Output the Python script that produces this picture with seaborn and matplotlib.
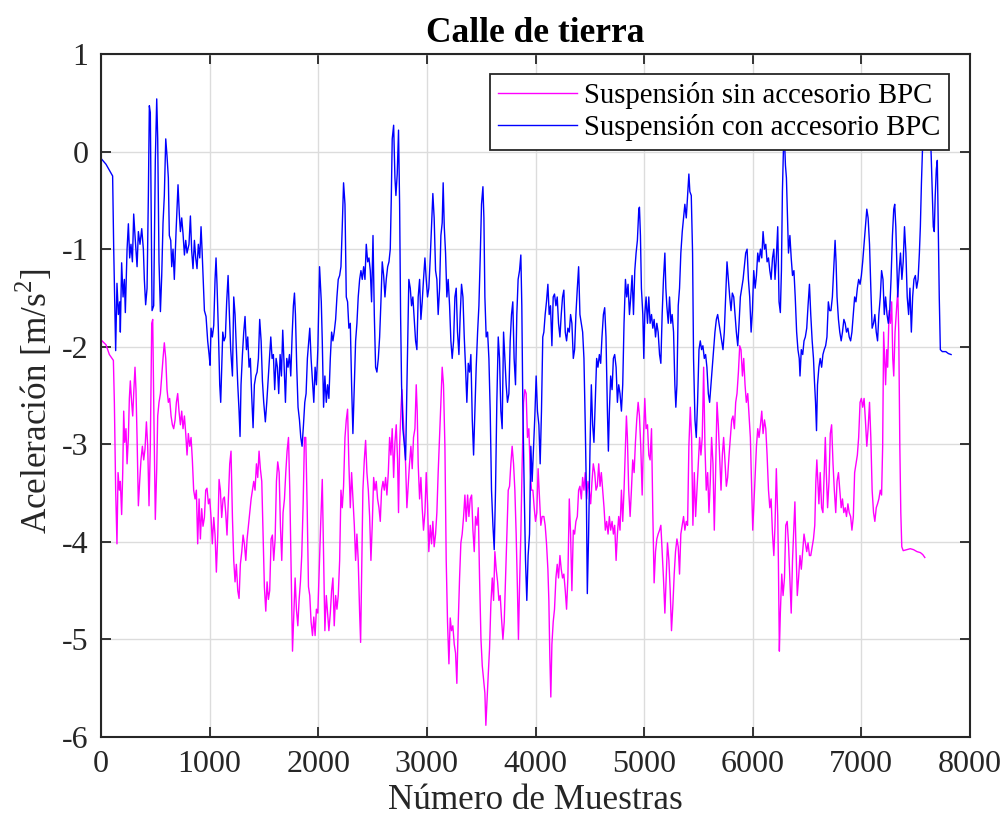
import numpy as np
import pandas as pd
import matplotlib
matplotlib.use("Agg")
import matplotlib.pyplot as plt
import seaborn as sns

# Fuente tipo Times (como MATLAB)
plt.rcParams['font.family'] = ['Liberation Serif', 'DejaVu Serif']
plt.rcParams['mathtext.fontset'] = 'custom'
plt.rcParams['mathtext.rm'] = 'Liberation Serif'
plt.rcParams['axes.unicode_minus'] = False

# Series (muestra, aceleración)
sin_bpc = [
    (0,-1.93),(46,-1.98),(77,-2.08),(114,-2.14),(123,-2.57),(135,-3.47),(147,-4.02),(157,-3.29),(169,-3.47),
    (178,-3.38),(190,-3.72),(200,-3.29),(209,-2.66),(218,-2.98),(230,-2.84),(240,-3.20),(252,-2.93),(261,-2.53),
    (270,-2.35),(282,-2.57),(292,-2.71),(301,-2.48),(313,-2.21),(322,-2.44),(332,-2.93),(344,-3.63),(356,-3.38),
    (368,-3.16),(381,-3.02),(393,-3.16),(405,-3.05),(418,-2.77),(430,-3.02),(442,-3.63),(454,-3.02),(467,-1.76),
    (476,-1.72),(488,-2.80),(500,-3.77),(513,-3.25),(522,-2.71),(534,-2.57),(547,-2.48),(559,-2.30),(571,-2.12),
    (583,-1.96),(596,-2.12),(608,-2.44),(620,-2.57),(632,-2.53),(645,-2.71),(657,-2.80),(669,-2.84),(682,-2.75),
    (694,-2.57),(706,-2.48),(718,-2.66),(731,-2.80),(743,-2.66),(755,-2.84),(768,-2.71),(780,-2.89),(792,-3.11),
    (804,-2.89),(817,-3.02),(829,-2.93),(841,-3.16),(853,-3.47),(866,-3.56),(878,-3.47),(890,-4.02),(903,-3.56),
    (915,-3.97),(927,-3.66),(939,-3.84),(952,-3.75),(964,-3.47),(976,-3.45),(989,-3.61),(1001,-3.56),(1013,-3.75),
    (1025,-4.02),(1038,-3.75),(1050,-3.93),(1062,-4.31),(1075,-3.93),(1087,-3.36),(1099,-3.47),(1111,-3.75),
    (1124,-3.56),(1136,-3.54),(1148,-3.70),(1160,-3.93),(1173,-3.56),(1185,-3.20),(1197,-3.07),(1210,-3.75),
    (1222,-4.19),(1234,-4.41),(1246,-4.23),(1259,-4.50),(1271,-4.58),(1283,-4.23),(1296,-4.10),(1308,-3.93),
    (1320,-4.02),(1333,-4.19),(1345,-3.97),(1357,-3.84),(1369,-3.70),(1382,-3.56),(1394,-3.47),(1406,-3.38),
    (1418,-3.47),(1431,-3.20),(1443,-3.34),(1455,-3.07),(1467,-3.25),(1480,-3.38),(1492,-3.93),(1504,-4.46),
    (1517,-4.71),(1529,-4.41),(1541,-4.59),(1553,-4.50),(1566,-3.97),(1578,-3.93),(1590,-4.19),(1603,-3.97),
    (1615,-3.38),(1627,-3.18),(1640,-3.29),(1652,-3.84),(1664,-4.19),(1676,-3.70),(1689,-3.56),(1701,-3.29),
    (1713,-3.07),(1726,-2.93),(1738,-3.47),(1750,-4.28),(1763,-5.12),(1775,-4.73),(1787,-4.37),(1799,-4.69),
    (1812,-4.86),(1824,-4.59),(1836,-4.41),(1848,-4.14),(1861,-3.61),(1873,-2.93),(1885,-2.93),(1898,-3.65),
    (1910,-4.46),(1922,-4.55),(1934,-4.82),(1947,-4.96),(1959,-4.77),(1971,-4.96),(1983,-4.69),(1996,-4.73),
    (2022,-3.83),(2037,-3.36),(2049,-4.14),(2061,-4.91),(2074,-4.55),(2086,-4.73),(2098,-4.91),(2111,-4.73),
    (2123,-4.50),(2135,-4.37),(2147,-4.86),(2160,-4.55),(2172,-4.69),(2184,-4.55),(2197,-4.19),(2209,-3.47),
    (2221,-3.65),(2233,-3.43),(2246,-2.93),(2258,-2.75),(2270,-2.64),(2282,-3.20),(2295,-3.65),(2307,-3.29),
    (2319,-3.56),(2332,-3.83),(2344,-4.19),(2356,-3.92),(2368,-4.19),(2381,-4.73),(2390,-5.03),(2399,-4.37),
    (2411,-3.47),(2424,-3.16),(2436,-2.96),(2448,-3.29),(2461,-3.47),(2473,-3.74),(2485,-4.19),(2497,-3.83),
    (2510,-3.34),(2522,-3.47),(2534,-3.38),(2546,-3.56),(2559,-3.65),(2571,-3.79),(2583,-3.47),(2596,-3.38),
    (2608,-3.47),(2620,-3.34),(2632,-3.52),(2645,-3.29),(2657,-2.93),(2669,-3.11),(2681,-2.84),(2694,-3.34),
    (2706,-2.98),(2718,-2.80),(2730,-3.16),(2739,-3.70),(2749,-3.02),(2761,-2.66),(2770,-2.44),(2779,-2.66),
    (2791,-2.93),(2804,-3.20),(2816,-3.65),(2828,-3.43),(2840,-3.20),(2853,-3.02),(2865,-3.25),(2877,-2.93),
    (2890,-2.84),(2902,-2.39),(2911,-2.66),(2920,-3.20),(2933,-3.56),(2945,-3.34),(2957,-3.65),(2969,-3.88),
    (2982,-3.70),(2994,-3.29),(3006,-3.61),(3018,-4.10),(3031,-3.83),(3043,-4.02),(3055,-3.79),(3067,-4.05),
    (3080,-3.92),(3092,-3.70),(3104,-3.29),(3117,-2.93),(3129,-2.57),(3141,-2.21),(3153,-2.39),(3166,-3.02),
    (3178,-4.19),(3190,-4.82),(3203,-5.25),(3215,-4.78),(3227,-4.91),(3239,-4.86),(3252,-5.05),(3264,-5.14),
    (3276,-5.45),(3289,-4.82),(3301,-4.37),(3313,-4.01),(3325,-3.92),(3338,-3.74),(3350,-3.52),(3362,-3.79),
    (3375,-3.52),(3387,-3.74),(3399,-3.56),(3412,-3.52),(3424,-3.88),(3436,-4.10),(3448,-3.74),(3461,-3.83),
    (3473,-3.65),(3485,-4.37),(3498,-5.00),(3510,-5.27),(3522,-5.41),(3534,-5.55),(3543,-5.88),(3553,-5.64),
    (3565,-5.36),(3577,-5.09),(3589,-4.64),(3602,-4.37),(3614,-4.60),(3626,-4.10),(3638,-4.28),(3651,-4.41),
    (3663,-4.60),(3675,-4.55),(3687,-4.78),(3700,-5.00),(3712,-4.82),(3724,-4.37),(3736,-3.92),(3749,-3.47),
    (3761,-3.43),(3773,-3.20),(3785,-3.02),(3798,-3.20),(3810,-3.47),(3822,-3.92),(3834,-4.50),(3843,-5.00),
    (3853,-4.46),(3865,-3.92),(3877,-3.20),(3890,-2.57),(3902,-2.44),(3914,-2.48),(3926,-2.93),(3939,-2.84),
    (3951,-3.25),(3963,-3.47),(3976,-3.47),(3988,-3.65),(4000,-3.79),(4012,-3.70),(4024,-3.25),(4037,-3.56),
    (4049,-3.83),(4061,-3.74),
    (4077,-3.74),(4089,-3.83),(4101,-4.01),(4114,-4.28),(4123,-4.60),(4132,-5.18),(4141,-5.59),(4151,-5.05),
    (4163,-4.82),(4175,-4.69),(4188,-4.37),(4200,-4.23),(4212,-4.37),(4225,-4.14),(4237,-4.28),(4249,-4.37),
    (4261,-4.33),(4274,-4.50),(4286,-4.69),(4298,-4.37),(4311,-3.56),(4323,-3.92),(4335,-4.50),(4348,-3.88),
    (4360,-3.92),(4372,-3.79),(4385,-3.74),(4397,-3.47),(4409,-3.43),(4422,-3.56),(4434,-3.34),(4446,-3.47),
    (4458,-3.29),(4471,-3.56),(4483,-3.38),(4495,-3.47),(4508,-3.61),(4520,-3.38),(4532,-3.20),(4545,-3.29),
    (4557,-3.47),(4569,-3.43),(4582,-3.20),(4594,-3.43),(4606,-3.29),(4618,-3.47),(4631,-3.65),(4643,-3.88),
    (4655,-3.79),(4668,-3.92),(4680,-3.74),(4692,-3.88),(4705,-3.79),(4717,-3.92),(4729,-3.83),(4742,-4.19),
    (4754,-3.92),(4766,-3.74),(4778,-3.88),(4791,-3.47),(4803,-3.79),(4815,-3.47),(4828,-3.02),(4837,-2.71),
    (4846,-2.93),(4858,-3.47),(4871,-3.74),(4883,-3.47),(4895,-3.16),(4908,-3.29),(4920,-2.98),(4932,-2.75),
    (4945,-2.57),(4957,-2.71),(4969,-3.02),(4982,-3.52),(4994,-2.93),(5006,-2.53),(5018,-2.84),(5031,-2.80),
    (5043,-3.11),(5055,-3.16),(5068,-2.84),(5080,-3.70),(5092,-4.42),(5105,-4.10),(5117,-3.97),(5129,-3.92),
    (5142,-3.88),(5154,-3.83),(5166,-4.10),(5178,-4.37),(5191,-4.73),(5203,-4.37),(5215,-4.01),(5228,-4.19),
    (5240,-4.50),(5252,-4.91),(5265,-4.64),(5277,-4.33),(5289,-4.10),(5302,-3.97),(5314,-4.05),(5326,-4.33),
    (5338,-3.92),(5351,-3.83),(5363,-3.74),(5375,-3.88),(5388,-3.79),(5400,-3.83),(5412,-3.02),(5425,-2.62),
    (5437,-2.93),(5449,-3.83),(5462,-3.29),(5474,-3.74),(5486,-3.47),(5498,-3.20),(5511,-2.93),(5523,-3.11),
    (5535,-2.93),(5548,-2.21),(5560,-3.02),(5572,-3.47),(5585,-3.29),(5597,-3.70),(5609,-3.38),(5621,-2.93),
    (5634,-3.20),(5646,-3.88),(5658,-3.29),(5671,-2.57),(5683,-2.80),(5695,-3.11),(5708,-3.47),(5720,-3.11),
    (5732,-2.93),(5745,-3.20),(5757,-3.43),(5769,-3.34),(5782,-3.11),(5794,-2.93),(5806,-2.75),(5818,-2.71),
    (5831,-2.84),(5843,-2.57),(5855,-2.48),(5868,-2.26),(5880,-1.99),(5892,-2.03),(5905,-2.30),(5917,-2.12),
    (5929,-2.39),(5941,-2.57),(5954,-2.48),(5966,-2.71),(5978,-2.93),(5991,-3.47),(6000,-3.88),(6009,-3.65),
    (6022,-3.34),(6034,-3.02),(6046,-2.84),(6058,-2.93),(6071,-2.80),(6083,-2.66),(6095,-2.89),(6108,-2.75),
    (6120,-2.84),(6132,-3.11),(6145,-3.47),(6157,-3.65),(6169,-3.56),(6182,-3.92),(6194,-4.14),
    (6205,-3.83),(6217,-3.25),(6230,-3.74),(6236,-4.19),(6245,-5.12),(6254,-4.73),(6267,-4.33),(6279,-4.55),
    (6292,-4.37),(6304,-3.83),(6317,-3.79),(6329,-4.01),(6342,-4.37),(6354,-4.73),(6366,-4.19),(6379,-3.83),
    (6388,-3.59),(6397,-4.01),(6410,-4.55),(6422,-4.37),(6435,-4.14),(6447,-4.28),(6459,-4.10),(6472,-3.92),
    (6484,-4.01),(6497,-4.10),(6509,-4.01),(6522,-4.14),(6534,-4.14),(6547,-4.05),(6559,-3.97),(6571,-3.83),
    (6581,-3.38),(6590,-3.16),(6599,-3.38),(6609,-3.61),(6621,-3.29),(6634,-3.65),(6646,-3.70),(6658,-3.29),
    (6668,-2.93),(6677,-3.29),(6689,-3.65),(6702,-3.38),(6714,-2.89),(6726,-2.80),(6739,-3.20),(6751,-3.47),
    (6764,-3.70),(6776,-3.38),(6789,-3.29),(6801,-3.47),(6814,-3.65),(6826,-3.56),(6838,-3.70),(6851,-3.65),
    (6863,-3.74),(6876,-3.61),(6888,-3.70),(6901,-3.74),(6913,-3.88),(6926,-3.74),(6938,-3.29),(6950,-3.20),
    (6963,-3.11),(6975,-2.93),(6988,-2.57),(7000,-2.53),(7012,-2.62),(7025,-2.53),(7037,-2.75),(7050,-3.02),
    (7062,-2.84),(7075,-2.57),(7087,-2.93),(7099,-3.47),(7112,-3.70),(7124,-3.79),(7137,-3.65),(7149,-3.61),
    (7161,-3.56),(7174,-3.47),(7186,-3.52),(7196,-3.02),(7205,-1.85),(7214,-2.12),(7223,-2.39),(7233,-2.03),
    (7242,-2.21),(7255,-1.63),(7267,-1.76),(7279,-1.54),(7289,-2.12),(7298,-2.30),(7310,-1.85),(7323,-1.63),
    (7335,-1.42),(7344,-1.85),(7354,-3.02),(7363,-3.70),(7372,-4.05),(7385,-4.09),(7419,-4.08),(7450,-4.07),
    (7481,-4.08),(7512,-4.10),(7543,-4.11),(7565,-4.13),(7584,-4.16),
]

con_bpc = [
    (0,-0.07),(46,-0.13),(107,-0.25),(117,-1.00),(135,-2.04),(147,-1.35),(160,-1.67),(172,-1.54),(178,-1.85),
    (190,-1.14),(203,-1.49),(215,-1.31),(224,-1.65),(240,-1.00),(252,-0.74),(264,-1.09),(276,-0.95),(289,-1.13),
    (301,-0.64),(313,-0.86),(332,-1.18),(344,-0.82),(359,-0.95),(375,-0.79),(390,-1.00),(399,-1.31),(411,-1.57),
    (424,-1.40),(436,-0.45),(445,0.47),(454,0.40),(470,-1.63),(485,-1.58),(500,-0.09),(513,0.54),(522,0.13),
    (534,-1.13),(547,-1.64),(559,-1.27),(571,-0.73),(583,-0.45),(596,0.13),(608,-0.05),(620,-0.27),(629,-0.86),
    (642,-0.91),(651,-1.18),(663,-1.00),(675,-1.31),(691,-0.82),(709,-0.34),(721,-0.64),(731,-0.82),(743,-0.68),
    (755,-0.84),(768,-1.06),(780,-0.91),(792,-1.04),(810,-0.95),(823,-0.66),(835,-1.02),(847,-1.20),(860,-0.91),
    (872,-1.09),(884,-1.20),(896,-0.95),(909,-1.09),(921,-0.77),(930,-1.00),(939,-1.27),(952,-1.63),(967,-1.69),
    (982,-1.94),(995,-2.08),(1004,-2.19),(1013,-1.81),(1025,-1.90),(1038,-1.78),(1050,-1.31),(1059,-1.09),
    (1068,-1.36),(1081,-1.85),(1093,-2.39),(1102,-2.57),(1111,-2.21),(1121,-1.85),(1133,-1.94),(1145,-1.90),
    (1157,-1.54),(1170,-1.27),(1182,-1.67),(1194,-2.03),(1210,-2.30),(1222,-1.49),(1234,-1.67),(1246,-2.03),
    (1259,-2.39),(1271,-2.66),(1280,-2.92),(1289,-2.39),(1302,-2.08),(1314,-1.85),(1326,-1.69),(1339,-2.03),
    (1351,-1.90),(1363,-2.21),(1375,-2.12),(1388,-2.52),(1400,-2.83),(1412,-2.39),(1425,-2.30),(1437,-2.26),
    (1449,-2.12),(1461,-1.72),(1474,-1.94),(1486,-2.35),(1498,-2.57),(1513,-2.77),(1526,-2.57),(1538,-2.35),
    (1550,-2.12),(1563,-1.90),(1575,-2.12),(1587,-2.08),(1599,-2.44),(1612,-2.12),(1624,-2.21),(1636,-2.48),
    (1649,-2.08),(1661,-2.30),(1673,-1.83),(1685,-2.17),(1698,-2.57),(1710,-2.12),(1722,-2.21),(1735,-2.08),
    (1747,-2.30),(1759,-1.90),(1771,-1.58),(1781,-1.45),(1790,-1.67),(1802,-2.21),(1814,-2.62),(1827,-2.75),
    (1839,-2.93),(1851,-3.02),(1864,-2.80),(1876,-2.57),(1888,-2.48),(1900,-2.12),(1913,-1.94),(1922,-1.81),
    (1934,-2.12),(1947,-2.35),(1959,-2.57),(1971,-2.21),(1983,-2.39),(1996,-2.03),
    (2012,-1.18),(2028,-1.54),(2037,-1.94),(2049,-2.62),(2061,-2.30),(2074,-2.57),(2086,-2.39),(2098,-2.53),
    (2111,-2.12),(2123,-1.85),(2135,-1.94),(2147,-1.85),(2160,-1.72),(2172,-1.49),(2184,-1.31),(2197,-1.27),
    (2209,-1.18),(2221,-0.77),(2233,-0.32),(2246,-0.54),(2258,-1.49),(2270,-1.54),(2282,-1.81),(2295,-1.76),
    (2307,-2.39),(2319,-2.89),(2332,-2.39),(2344,-1.94),(2356,-1.76),(2368,-1.49),(2381,-1.31),(2393,-1.22),
    (2405,-1.31),(2418,-1.18),(2430,-1.31),(2442,-0.95),(2455,-1.13),(2467,-1.09),(2479,-1.22),(2491,-1.54),
    (2504,-0.86),(2516,-1.67),(2528,-2.21),(2540,-2.26),(2553,-2.12),(2565,-1.90),(2577,-1.54),(2589,-1.13),
    (2602,-1.27),(2614,-1.49),(2626,-1.31),(2639,-1.18),(2651,-1.13),(2663,-1.00),(2672,-0.50),(2681,0.13),
    (2694,0.27),(2706,-0.27),(2715,-0.45),(2727,-0.23),(2739,0.22),(2749,-0.54),(2758,-1.67),(2767,-2.39),
    (2779,-2.84),(2791,-2.98),(2804,-3.16),(2816,-2.44),(2825,-1.85),(2834,-1.31),(2847,-1.40),(2859,-1.58),
    (2871,-1.49),(2884,-1.72),(2896,-1.94),(2908,-2.03),(2920,-1.49),(2933,-1.31),(2945,-1.72),(2957,-1.54),
    (2969,-1.31),(2982,-1.09),(2994,-1.31),(3006,-1.49),(3018,-1.40),(3031,-1.09),(3043,-0.77),(3055,-0.43),
    (3067,-0.68),(3080,-1.22),(3092,-1.31),(3104,-1.67),(3117,-1.40),(3129,-0.86),(3141,-0.73),(3150,-0.32),
    (3160,-0.77),(3172,-1.04),(3184,-1.49),(3196,-1.31),(3209,-1.58),(3221,-1.94),(3233,-2.12),(3246,-1.94),
    (3258,-1.49),(3270,-1.40),(3282,-1.85),(3295,-2.08),(3307,-1.67),(3319,-1.36),(3332,-1.49),(3344,-1.90),
    (3356,-2.21),(3368,-2.57),(3381,-2.17),(3393,-2.26),(3405,-2.08),(3418,-2.75),(3430,-3.11),(3442,-2.66),
    (3454,-2.21),(3467,-1.85),(3479,-1.58),(3491,-1.09),(3503,-0.54),(3516,-0.36),(3525,-0.68),(3534,-1.49),
    (3546,-1.90),(3559,-1.85),(3571,-2.12),(3583,-2.66),(3595,-3.47),(3608,-3.83),(3620,-4.08),(3632,-3.47),
    (3644,-2.57),(3657,-1.90),(3669,-2.12),(3681,-2.66),(3693,-2.84),(3706,-1.85),(3718,-2.12),(3730,-2.39),
    (3742,-2.57),(3755,-2.48),(3767,-1.94),(3779,-1.67),(3791,-1.54),(3803,-2.12),(3816,-2.39),(3828,-1.67),
    (3840,-1.31),(3853,-1.22),(3865,-1.06),(3874,-1.58),(3883,-2.57),(3896,-3.47),(3908,-4.19),(3920,-4.60),
    (3932,-4.14),(3945,-3.92),(3957,-3.02),(3969,-3.38),(3982,-3.02),(3994,-2.71),(4006,-2.30),(4018,-2.66),
    (4031,-2.80),(4043,-3.20),(4055,-2.66),(4067,-1.90),
    (4077,-1.85),(4089,-1.67),(4101,-1.54),(4114,-1.36),(4126,-1.67),(4138,-1.58),(4151,-1.99),(4163,-1.49),
    (4175,-1.46),(4188,-1.58),(4200,-1.49),(4212,-1.76),(4225,-1.90),(4237,-1.67),(4249,-1.49),(4261,-1.42),
    (4274,-1.85),(4286,-1.94),(4298,-1.81),(4311,-1.85),(4323,-1.67),(4335,-1.76),(4348,-2.12),(4360,-2.03),
    (4372,-1.67),(4385,-1.40),(4397,-1.18),(4409,-1.67),(4422,-1.76),(4434,-1.85),(4446,-2.12),(4458,-2.80),
    (4468,-3.47),(4477,-4.53),(4489,-3.92),(4502,-3.02),(4514,-2.39),(4526,-2.80),(4538,-2.98),(4551,-2.53),
    (4563,-2.12),(4575,-2.21),(4588,-2.08),(4600,-2.17),(4612,-1.90),(4625,-1.67),(4637,-1.60),(4649,-1.90),
    (4662,-2.66),(4671,-3.07),(4680,-2.66),(4692,-2.30),(4705,-2.44),(4717,-2.12),(4729,-2.08),(4742,-2.21),
    (4754,-2.57),(4766,-2.39),(4778,-2.48),(4791,-2.66),(4803,-2.39),(4815,-1.76),(4828,-1.31),(4840,-1.49),
    (4852,-1.36),(4865,-1.67),(4877,-1.49),(4889,-1.27),(4902,-1.67),(4914,-1.22),(4926,-1.04),(4938,-0.91),
    (4951,-0.59),(4957,-0.57),(4966,-0.86),(4975,-1.40),(4988,-1.67),(4997,-2.12),(5006,-1.67),(5018,-1.49),
    (5031,-1.76),(5043,-1.49),(5055,-1.76),(5068,-1.67),(5080,-1.81),(5092,-1.72),(5105,-1.90),(5117,-1.76),
    (5129,-1.85),(5142,-2.08),(5154,-2.17),(5166,-1.67),(5178,-1.31),(5191,-1.04),(5200,-1.40),(5209,-1.58),
    (5222,-1.76),(5234,-1.49),(5246,-1.76),(5258,-1.67),(5271,-1.85),(5283,-2.39),(5292,-2.62),(5302,-2.39),
    (5314,-1.58),(5326,-1.40),(5338,-1.04),(5351,-0.82),(5363,-0.68),(5375,-0.54),(5388,-0.68),(5400,-0.45),
    (5412,-0.23),(5421,-0.41),(5434,-0.45),(5446,-1.04),(5455,-2.12),(5468,-2.75),(5480,-2.93),(5492,-2.57),
    (5505,-2.03),(5517,-1.94),(5529,-2.03),(5541,-1.99),(5554,-2.12),(5566,-2.08),(5578,-2.21),(5591,-2.48),
    (5603,-2.57),(5615,-2.39),(5628,-2.21),(5640,-2.03),(5652,-1.85),(5665,-1.72),(5677,-1.67),(5689,-1.76),
    (5702,-1.85),(5714,-1.94),(5726,-2.03),(5738,-1.85),(5751,-1.49),(5763,-1.13),(5775,-1.31),(5788,-1.49),
    (5800,-1.63),(5812,-1.45),(5825,-1.49),(5837,-1.67),(5849,-1.85),(5862,-1.99),(5874,-1.76),(5886,-1.49),
    (5898,-1.40),(5911,-1.31),(5923,-1.18),(5935,-1.04),(5948,-1.00),(5960,-1.31),(5972,-1.49),(5985,-1.85),
    (5997,-1.63),(6009,-1.22),(6022,-1.40),(6034,-1.27),(6046,-1.04),(6058,-1.13),(6071,-1.00),(6083,-1.09),
    (6095,-0.82),(6108,-1.00),(6120,-0.95),(6132,-1.13),(6145,-1.09),(6157,-1.22),(6169,-1.31),(6182,-1.09),
    (6194,-1.00),
    (6205,-1.31),(6217,-1.09),(6230,-0.77),(6242,-1.54),(6254,-1.65),(6264,-1.22),(6273,-0.41),(6282,0.00),
    (6292,0.13),(6301,-0.14),(6310,-0.27),(6320,-0.68),(6329,-1.04),(6342,-0.86),(6354,-1.09),(6366,-1.27),
    (6379,-1.22),(6391,-1.49),(6404,-1.85),(6416,-2.03),(6428,-2.12),(6435,-2.30),(6447,-2.03),(6460,-2.08),
    (6472,-1.94),(6484,-1.90),(6497,-1.81),(6509,-1.58),(6522,-1.36),(6534,-1.67),(6547,-1.94),(6559,-2.12),
    (6568,-2.35),(6578,-2.57),(6587,-2.86),(6596,-2.39),(6609,-2.21),(6621,-2.12),(6634,-2.21),(6646,-2.08),
    (6658,-2.03),(6671,-1.99),(6683,-1.90),(6696,-1.54),(6708,-1.63),(6720,-1.63),(6733,-1.49),(6745,-1.22),
    (6758,-0.91),(6767,-1.13),(6776,-1.49),(6789,-1.72),(6801,-1.85),(6814,-1.94),(6826,-1.85),(6839,-1.72),
    (6851,-1.76),(6863,-1.85),(6876,-1.81),(6888,-1.90),(6901,-1.94),(6913,-1.85),(6926,-1.67),(6938,-1.49),
    (6950,-1.54),(6963,-1.40),(6975,-1.31),(6988,-1.36),(7000,-1.27),(7012,-1.13),(7025,-0.95),(7037,-0.77),
    (7050,-0.59),(7062,-0.68),(7075,-0.95),(7087,-1.40),(7099,-1.81),(7112,-1.76),(7124,-1.67),(7137,-1.85),
    (7149,-1.94),(7161,-1.67),(7174,-1.49),(7186,-1.22),(7199,-1.31),(7211,-1.67),(7223,-1.49),(7236,-1.67),
    (7248,-1.76),(7261,-1.63),(7273,-1.31),(7286,-0.86),(7298,-0.59),(7307,-0.54),(7317,-0.77),(7326,-1.13),
    (7335,-1.49),(7348,-1.22),(7360,-1.04),(7373,-1.31),(7385,-1.13),(7397,-0.77),(7410,-1.04),(7422,-1.49),
    (7435,-1.67),(7447,-1.40),(7460,-1.85),(7472,-1.49),(7484,-1.31),(7497,-1.27),(7509,-1.40),(7522,-1.31),
    (7534,-1.04),(7543,-0.77),(7553,-0.32),(7562,0.00),(7571,0.13),(7584,0.28),(7596,0.31),(7609,0.13),
    (7621,0.36),(7634,0.22),(7643,-0.05),(7652,-0.41),(7662,-0.77),(7671,-0.82),(7680,-0.45),(7690,-0.18),
    (7699,-0.09),(7708,-0.77),(7717,-1.49),(7727,-2.03),(7745,-2.05),(7777,-2.05),(7801,-2.07),(7826,-2.08),
]

lbl_sin = 'Suspensión sin accesorio BPC'
lbl_con = 'Suspensión con accesorio BPC'
x_ticks = [0, 1000, 2000, 3000, 4000, 5000, 6000, 7000, 8000]
y_ticks = [-6, -5, -4, -3, -2, -1, 0, 1]

frames = []
for nombre, pts in [(lbl_sin, sin_bpc), (lbl_con, con_bpc)]:
    arr = np.array(pts)
    frames.append(pd.DataFrame({'muestra': arr[:, 0], 'acel': arr[:, 1], 'serie': nombre}))
df = pd.concat(frames, ignore_index=True)

fig = plt.figure(figsize=(10.08, 8.27), dpi=100)
ax = fig.add_axes([0.1002, 0.1088, 0.8621, 0.8259])

sns.lineplot(data=df, x='muestra', y='acel', hue='serie', hue_order=[lbl_sin, lbl_con],
             palette={lbl_sin: '#FF00FF', lbl_con: '#0000FF'},
             estimator=None, sort=False, linewidth=1.0, ax=ax)

ax.set_xlim(0, 8000)
ax.set_ylim(-6, 1)
ax.set_xticks(x_ticks)
ax.set_yticks(y_ticks)
ax.grid(True, color='#dcdcdc', linewidth=1.0)
ax.set_axisbelow(True)
for s in ax.spines.values():
    s.set_color('#262626')
    s.set_linewidth(1.5)
ax.tick_params(direction='in', length=7, width=1.3, color='#262626', labelsize=23,
               labelcolor='#262626', top=True, right=True, pad=9)

ax.set_title('Calle de tierra', fontsize=25.5, fontweight='bold', pad=9)
ax.set_xlabel('Número de Muestras', fontsize=25.3, color='#262626', labelpad=4)
ax.set_ylabel(r'Aceleración [m/s$^{2}$]', fontsize=25.3, color='#262626', labelpad=5)
ax.yaxis.label.set_y(0.492)

sns.move_legend(ax, 'upper right', bbox_to_anchor=(0.9758, 0.9707), borderaxespad=0,
                title=None, fontsize=20.7, frameon=True, fancybox=False, framealpha=1,
                edgecolor='#262626', labelspacing=0.17, borderpad=0.29,
                handlelength=2.75, handletextpad=0.25)
leg = ax.get_legend()
leg.get_frame().set_linewidth(1.3)
for h in leg.legend_handles:
    h.set_linewidth(1.0)

fig.savefig('out.png', dpi=100)
